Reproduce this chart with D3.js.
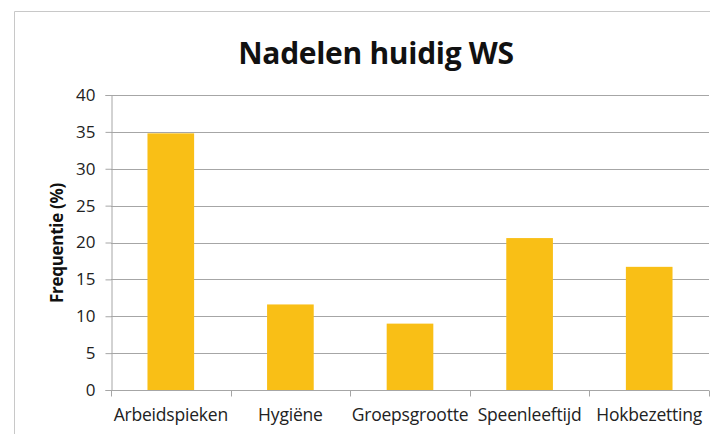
<!DOCTYPE html>
<html>
<head>
<meta charset="utf-8">
<script src="https://cdn.jsdelivr.net/npm/d3@7"></script>
<style>
	html, body { margin: 0; padding: 0; background: #fff; }
	svg { display: block; }
</style>
</head>
<body>
<div id="chart"></div>
<script>
const categories = ["Arbeidspieken", "Hygiëne", "Groepsgrootte", "Speenleeftijd", "Hokbezetting"];
const values = [34.8, 11.6, 9.0, 20.6, 16.7];
const yTicks = [0, 5, 10, 15, 20, 25, 30, 35, 40];

const width = 713;
const height = 434;
const FONT = "'Open Sans', Lato, sans-serif";
const MARGIN = {top: 95, right: 4, bottom: 44, left: 111};
const innerW = width - MARGIN.left - MARGIN.right;
const innerH = height - MARGIN.top - MARGIN.bottom;

const svg = d3.select("#chart")
	.append("svg")
	.attr("width", width)
	.attr("height", height);

// Chart border (right and bottom run off the picture)
svg.append("path")
	.attr("d", `M14.5,${height} V11.5 H710`)
	.attr("fill", "none")
	.attr("stroke", "#c8c8c8")
	.attr("stroke-width", 1);

svg.append("text")
	.attr("x", 376)
	.attr("y", 64)
	.attr("text-anchor", "middle")
	.attr("font-family", FONT)
	.attr("font-weight", "bold")
	.attr("font-size", "30px")
	.attr("letter-spacing", "-0.3px")
	.attr("fill", "#111")
	.text("Nadelen huidig WS");

const g = svg.append("g")
	.attr("transform", `translate(${MARGIN.left},${MARGIN.top})`);

const x = d3.scaleBand()
	.domain(categories)
	.range([0, innerW])
	.paddingInner(0.61)
	.paddingOuter(0.305);

const y = d3.scaleLinear()
	.domain([0, 40])
	.range([innerH, 0]);

// Gridlines
g.append("g")
	.selectAll("line")
	.data(yTicks.filter(d => d > 0))
	.join("line")
	.attr("x1", 0)
	.attr("x2", innerW)
	.attr("y1", d => Math.round(y(d)) + 0.5)
	.attr("y2", d => Math.round(y(d)) + 0.5)
	.attr("stroke", "#a6a6a6")
	.attr("stroke-width", 1);

// Bars
g.append("g")
	.selectAll("rect")
	.data(values)
	.join("rect")
	.attr("x", (d, i) => x(categories[i]))
	.attr("y", d => y(d))
	.attr("width", x.bandwidth())
	.attr("height", d => innerH - y(d))
	.attr("fill", "#f9bf16");

// Y axis
const yAxis = g.append("g")
	.attr("transform", "translate(0.5,0)")
	.call(d3.axisLeft(y).tickValues(yTicks).tickSize(6).tickPadding(10));
yAxis.select(".domain").attr("stroke", "#a6a6a6");
yAxis.selectAll(".tick line").attr("stroke", "#a6a6a6");
yAxis.selectAll("text")
	.attr("font-family", FONT)
	.attr("font-size", "17px")
	.attr("fill", "#222");

// X axis: ticks sit between categories
const step = innerW / categories.length;
const xg = g.append("g").attr("transform", `translate(0,${Math.round(innerH) + 0.5})`);
xg.append("line")
	.attr("x1", 0).attr("x2", innerW)
	.attr("stroke", "#a6a6a6");
xg.selectAll(".sep")
	.data(d3.range(categories.length + 1))
	.join("line")
	.attr("class", "sep")
	.attr("x1", i => Math.round(i * step) + 0.5)
	.attr("x2", i => Math.round(i * step) + 0.5)
	.attr("y1", 0).attr("y2", 6)
	.attr("stroke", "#a6a6a6");
xg.selectAll("text")
	.data(categories)
	.join("text")
	.attr("x", d => x(d) + x.bandwidth() / 2)
	.attr("y", 30)
	.attr("text-anchor", "middle")
	.attr("font-family", FONT)
	.attr("font-size", "17.5px")
	.attr("letter-spacing", "-0.2px")
	.attr("fill", "#222")
	.text(d => d);

// Y label
svg.append("text")
	.attr("transform", `translate(63,243) rotate(-90)`)
	.attr("text-anchor", "middle")
	.attr("font-family", FONT)
	.attr("font-weight", "bold")
	.attr("font-size", "17px")
	.attr("letter-spacing", "-0.3px")
	.attr("fill", "#111")
	.text("Frequentie (%)");
</script>
</body>
</html>
